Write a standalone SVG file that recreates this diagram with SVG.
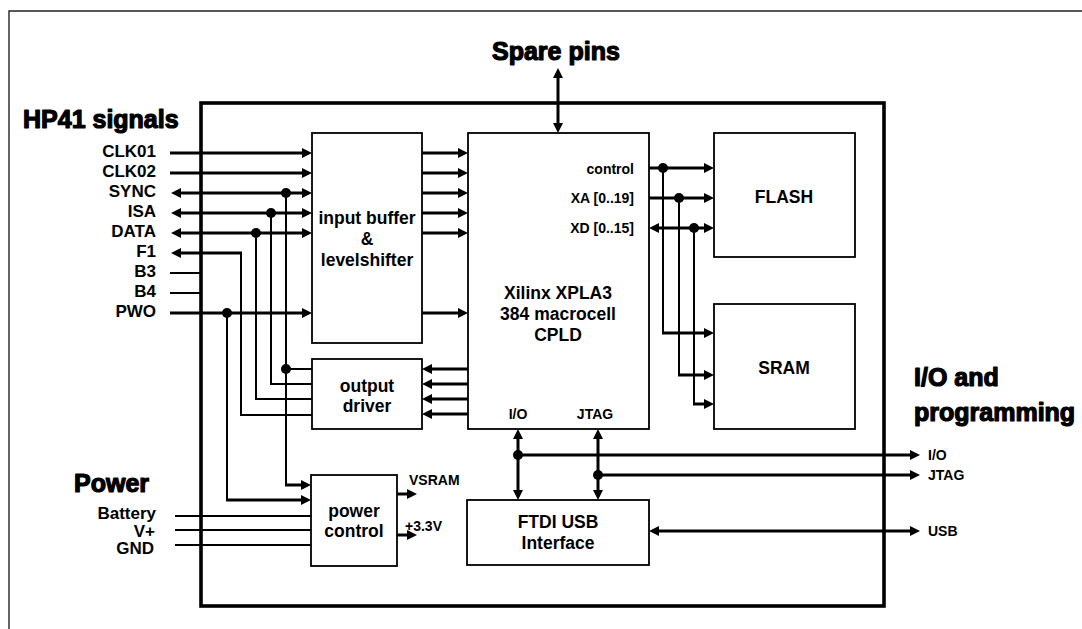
<svg xmlns="http://www.w3.org/2000/svg" width="1082" height="629" viewBox="0 0 1082 629">
<style>
  text{font-family:"Liberation Sans",Arial,sans-serif;font-weight:bold;fill:#000}
  .h{font-size:25px;stroke:#000;stroke-width:1.2;stroke-linejoin:round}
  .lab{font-size:17px}
  .sm{font-size:14px}
  .bl{font-size:17.5px;text-anchor:middle}
  .box{fill:#fff;stroke:#000;stroke-width:1.8}
  .w3{fill:none;stroke:#000;stroke-width:3}
  .w2{fill:none;stroke:#000;stroke-width:2}
  .w1{fill:none;stroke:#000;stroke-width:1.8}
  .ae{marker-end:url(#ah)}
  .as{marker-start:url(#ah)}
  .dot{fill:#000}
</style>
<defs>
  <marker id="ah" viewBox="0 0 10 10" markerWidth="10" markerHeight="10" refX="2" refY="5" markerUnits="userSpaceOnUse" orient="auto-start-reverse">
    <path d="M0,0 L10,5 L0,10 z" fill="#000"/>
  </marker>
</defs>
<rect width="1082" height="629" fill="#fff"/>
<g id="frame">
  <path d="M9,629 V11 H1082" fill="none" stroke="#222" stroke-width="1.4"/>
  <rect x="201" y="103" width="683" height="503" fill="none" stroke="#000" stroke-width="3.6"/>
</g>
<g id="headings">
  <text class="h" x="23" y="128">HP41 signals</text>
  <text class="h" x="492" y="60">Spare pins</text>
  <text class="h" x="74" y="492">Power</text>
  <text class="h" x="914" y="386">I/O and</text>
  <text class="h" x="914" y="421">programming</text>
</g>
<g id="signal-labels" class="lab" text-anchor="end">
  <text x="156" y="157">CLK01</text>
  <text x="156" y="177">CLK02</text>
  <text x="156" y="197">SYNC</text>
  <text x="156" y="217">ISA</text>
  <text x="156" y="237">DATA</text>
  <text x="156" y="257">F1</text>
  <text x="156" y="277">B3</text>
  <text x="156" y="297">B4</text>
  <text x="156" y="317">PWO</text>
  <text x="156" y="519">Battery</text>
  <text x="155" y="537">V+</text>
  <text x="154" y="554">GND</text>
</g>
<g id="input-buffer">
  <rect class="box" x="312" y="133" width="110" height="210"/>
  <text class="bl" x="367" y="224">input buffer</text>
  <text class="bl" x="367" y="245">&amp;</text>
  <text class="bl" x="367" y="266">levelshifter</text>
</g>
<g id="output-driver">
  <rect class="box" x="312" y="359" width="110" height="70"/>
  <text class="bl" x="367" y="392">output</text>
  <text class="bl" x="367" y="412">driver</text>
</g>
<g id="cpld">
  <rect class="box" x="468" y="133" width="181" height="296"/>
  <text class="sm" x="634" y="174" text-anchor="end">control</text>
  <text class="sm" x="634" y="203" text-anchor="end">XA [0..19]</text>
  <text class="sm" x="634" y="233" text-anchor="end">XD [0..15]</text>
  <text class="bl" x="558" y="299">Xilinx XPLA3</text>
  <text class="bl" x="558" y="320">384 macrocell</text>
  <text class="bl" x="558" y="341">CPLD</text>
  <text class="sm" x="518" y="419" text-anchor="middle">I/O</text>
  <text class="sm" x="595" y="419" text-anchor="middle">JTAG</text>
</g>
<g id="flash">
  <rect class="box" x="714" y="133" width="141" height="124"/>
  <text class="bl" x="784" y="203">FLASH</text>
</g>
<g id="sram">
  <rect class="box" x="714" y="304" width="141" height="125"/>
  <text class="bl" x="784" y="374">SRAM</text>
</g>
<g id="power-control">
  <rect class="box" x="311" y="475" width="86" height="91"/>
  <text class="bl" x="354" y="517">power</text>
  <text class="bl" x="354" y="537">control</text>
  <text class="sm" x="409" y="485">VSRAM</text>
  <text class="sm" x="405" y="531">+3.3V</text>
</g>
<g id="ftdi">
  <rect class="box" x="467" y="500" width="182" height="65"/>
  <text class="bl" x="558" y="528">FTDI USB</text>
  <text class="bl" x="558" y="549">Interface</text>
</g>
<g id="io-labels" class="sm">
  <text x="928" y="460">I/O</text>
  <text x="928" y="480">JTAG</text>
  <text x="928" y="536">USB</text>
</g>
<g id="connectors">
  <path class="w3 ae" d="M170,153 H304"/>
  <path class="w3 ae" d="M170,173 H304"/>
  <path class="w3 ae as" d="M179,193 H304"/>
  <path class="w3 ae as" d="M179,213 H304"/>
  <path class="w3 ae as" d="M179,233 H304"/>
  <path class="w3 as" d="M179,253 H242"/>
  <path class="w2" d="M241,253 V415 H312"/>
  <path class="w2" d="M170,273 H201"/>
  <path class="w2" d="M170,293 H201"/>
  <path class="w3 ae" d="M170,313 H304"/>
  <path class="w2" d="M286,193 V486"/>
  <path class="w3 ae" d="M285,485 H303"/>
  <path class="w2" d="M286,369 H312"/>
  <path class="w2" d="M271,213 V384 H312"/>
  <path class="w2" d="M256,233 V399 H312"/>
  <path class="w2" d="M227,313 V501"/>
  <path class="w3 ae" d="M226,500 H303"/>
  <path class="w3 ae" d="M422,153 H460"/>
  <path class="w3 ae" d="M422,173 H460"/>
  <path class="w3 ae" d="M422,193 H460"/>
  <path class="w3 ae" d="M422,213 H460"/>
  <path class="w3 ae" d="M422,233 H460"/>
  <path class="w3 ae" d="M422,313 H460"/>
  <path class="w3 ae" d="M468,369 H430"/>
  <path class="w3 ae" d="M468,384 H430"/>
  <path class="w3 ae" d="M468,399 H430"/>
  <path class="w3 ae" d="M468,414 H430"/>
  <path class="w3 ae as" d="M558,76 V125"/>
  <path class="w3 ae" d="M649,168 H706"/>
  <path class="w2" d="M663,168 V334"/>
  <path class="w3 ae" d="M662,333 H706"/>
  <path class="w3 ae" d="M649,198 H706"/>
  <path class="w2" d="M679,198 V376"/>
  <path class="w3 ae" d="M678,375 H706"/>
  <path class="w3 ae as" d="M657,228 H706"/>
  <path class="w2" d="M694,228 V405"/>
  <path class="w3 ae" d="M693,404 H706"/>
  <path class="w3 ae as" d="M518,437 V492"/>
  <path class="w3 ae as" d="M598,437 V492"/>
  <path class="w3 ae" d="M518,455 H912"/>
  <path class="w3 ae" d="M598,475 H912"/>
  <path class="w3 ae as" d="M657,531 H912"/>
  <path class="w1" d="M175,516 H311"/>
  <path class="w1" d="M175,530 H311"/>
  <path class="w1" d="M175,545 H311"/>
  <path class="w3 ae" d="M397,494 H409"/>
  <path class="w3 ae" d="M397,535 H409"/>
  <circle class="dot" cx="286" cy="193" r="5"/>
  <circle class="dot" cx="271" cy="213" r="5"/>
  <circle class="dot" cx="256" cy="233" r="5"/>
  <circle class="dot" cx="227" cy="313" r="5"/>
  <circle class="dot" cx="286" cy="369" r="5"/>
  <circle class="dot" cx="663" cy="168" r="5"/>
  <circle class="dot" cx="679" cy="198" r="5"/>
  <circle class="dot" cx="694" cy="228" r="5"/>
  <circle class="dot" cx="518" cy="455" r="5"/>
  <circle class="dot" cx="598" cy="475" r="5"/>
</g>
</svg>
